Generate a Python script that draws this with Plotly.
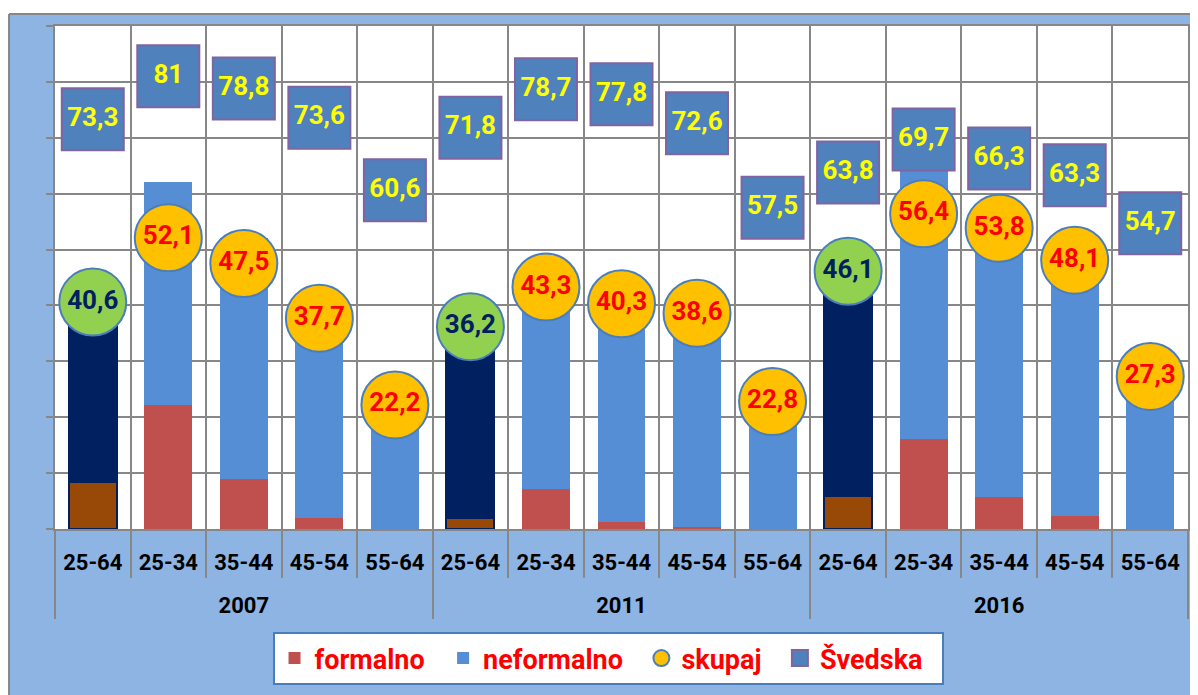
import plotly.graph_objects as go

years = ["2007", "2011", "2016"]
ages = ["25-64", "25-34", "35-44", "45-54", "55-64"]

# values in category order (year, age)
formalno = [8.4, 22.1, 8.9, 2.0, 0.0,
            2.0, 7.1, 1.2, 0.3, 0.0,
            5.9, 16.1, 5.7, 2.3, 0.0]
neformalno = [32.2, 40.0, 43.2, 36.0, 22.0,
              34.0, 36.4, 38.8, 38.3, 22.8,
              40.1, 49.9, 47.3, 45.7, 27.0]
skupaj = [40.6, 52.1, 47.5, 37.7, 22.2,
          36.2, 43.3, 40.3, 38.6, 22.8,
          46.1, 56.4, 53.8, 48.1, 27.3]
svedska = [73.3, 81, 78.8, 73.6, 60.6,
           71.8, 78.7, 77.8, 72.6, 57.5,
           63.8, 69.7, 66.3, 63.3, 54.7]

FONT = "Roboto, Liberation Sans, sans-serif"
GRID = "#878787"
PAD = "\u00a0\u00a0"  # extra spacing after each legend entry

# year labels get a leading line break so they sit lower, as in the reference
x_year = ["<br>" + y for y in years for a in ages]
x_age = [a for y in years for a in ages]
n = len(x_age)
is_total = [a == "25-64" for a in x_age]
main = [not t for t in is_total]


def fmt(v):
    return f"{v:g}".replace(".", ",")


def sub(vals, mask):
    return [v for v, m in zip(vals, mask) if m]


fig = go.Figure()

# Švedska squares (full category list first to keep category order)
fig.add_trace(go.Scatter(
    x=[x_year, x_age], y=svedska, mode="markers+text", name="Švedska" + PAD,
    text=[fmt(v) for v in svedska], textposition="middle center",
    textfont=dict(family=FONT, size=26, color="#FFFF00", weight="bold"),
    marker=dict(symbol="square", size=62, color="#4F81BD",
                line=dict(color="#8064A2", width=2)),
    legendrank=4, cliponaxis=False, hoverinfo="skip",
))

# bars
fig.add_trace(go.Bar(
    x=[sub(x_year, main), sub(x_age, main)], y=sub(formalno, main),
    name="formalno" + PAD, marker=dict(color="#C0504D", line=dict(width=0)),
    legendrank=1,
))
fig.add_trace(go.Bar(
    x=[sub(x_year, is_total), sub(x_age, is_total)], y=sub(formalno, is_total),
    name="formalno 25-64", showlegend=False,
    marker=dict(color="#984807", line=dict(color="#002060", width=2)),
))
fig.add_trace(go.Bar(
    x=[sub(x_year, main), sub(x_age, main)], y=sub(neformalno, main),
    name="neformalno" + PAD, marker=dict(color="#558ED5", line=dict(width=0)),
    legendrank=2,
))
fig.add_trace(go.Bar(
    x=[sub(x_year, is_total), sub(x_age, is_total)], y=sub(neformalno, is_total),
    name="neformalno 25-64", showlegend=False,
    marker=dict(color="#002060", line=dict(color="#002060", width=2)),
))

# skupaj circles
fig.add_trace(go.Scatter(
    x=[sub(x_year, main), sub(x_age, main)], y=sub(skupaj, main),
    mode="markers+text", name="skupaj" + PAD,
    text=[fmt(v) for v in sub(skupaj, main)], textposition="middle center",
    textfont=dict(family=FONT, size=26, color="#FF0000", weight="bold"),
    marker=dict(symbol="circle", size=67, color="#FFC000",
                line=dict(color="#4A7EBB", width=2)),
    legendrank=3, cliponaxis=False,
))
fig.add_trace(go.Scatter(
    x=[sub(x_year, is_total), sub(x_age, is_total)], y=sub(skupaj, is_total),
    mode="markers+text", name="skupaj 25-64", showlegend=False,
    text=[fmt(v) for v in sub(skupaj, is_total)], textposition="middle center",
    textfont=dict(family=FONT, size=26, color="#002060", weight="bold"),
    marker=dict(symbol="circle", size=67, color="#92D050",
                line=dict(color="#4A7EBB", width=2)),
    cliponaxis=False,
))

# empty trace so the overlay axis (category boundary ticks) is drawn
fig.add_trace(go.Scatter(x=[], y=[], xaxis="x2", yaxis="y",
                         showlegend=False, hoverinfo="skip"))

# page body has an 8px margin: the figure starts at (8, 8) of the window
OFF = 8
W, H = 1190, 687
ml, mr, mt, mb = 47, 8, 18, 166
pw, ph = W - ml - mr, H - mt - mb
left_s, bottom_s = ml + OFF, H - mb + OFF  # plot corner in window pixels


def px(x):
    return (x - left_s) / pw


def py(y):
    return (bottom_s - y) / ph


boundaries = [i - 0.5 for i in range(n + 1)]

fig.update_layout(
    width=W, height=H,
    margin=dict(l=ml, r=mr, t=mt, b=mb, pad=0),
    paper_bgcolor="#8EB4E3", plot_bgcolor="white",
    barmode="stack", bargap=0.365,
    font=dict(family=FONT),
    showlegend=True,
    legend=dict(
        orientation="h", x=px(609), y=py(632), xanchor="center", yanchor="top",
        bgcolor="white", bordercolor="#4A7EBB", borderwidth=2,
        font=dict(family=FONT, size=27, color="#FF0000", weight="bold"),
        traceorder="normal", itemsizing="trace", itemwidth=30,
    ),
    xaxis=dict(
        type="multicategory", range=[-0.5, n - 0.5], autorange=False,
        showgrid=True, gridcolor=GRID, gridwidth=2, ticks="", tickangle=0,
        ticklabelstandoff=13,
        showline=True, linecolor=GRID, linewidth=2, mirror=True,
        showdividers=True, dividercolor=GRID, dividerwidth=2,
        tickfont=dict(family=FONT, size=22, color="black", weight="bold"),
    ),
    xaxis2=dict(
        overlaying="x", anchor="y", side="bottom", range=[-0.5, n - 0.5],
        autorange=False,
        tickmode="array", tickvals=boundaries, ticks="outside", ticklen=48,
        tickwidth=2, tickcolor=GRID, showticklabels=False,
        showgrid=False, zeroline=False, showline=False,
    ),
    yaxis=dict(
        range=[0, 90], dtick=10, showticklabels=False, ticks="outside",
        ticklen=7, tickwidth=2, tickcolor=GRID, showgrid=True,
        gridcolor=GRID, gridwidth=2, zeroline=False,
        showline=True, linecolor=GRID, linewidth=2, mirror=True,
    ),
    shapes=[
        dict(type="rect", xref="paper", yref="paper", x0=px(-5), x1=px(1300),
             y0=py(14), y1=py(-5), fillcolor="white", line=dict(width=0)),
        dict(type="line", xref="paper", yref="paper", x0=px(9), x1=px(1300),
             y0=py(14), y1=py(14), line=dict(color=GRID, width=2)),
        dict(type="line", xref="paper", yref="paper", x0=px(9), x1=px(9),
             y0=py(14), y1=py(800), line=dict(color=GRID, width=2)),
    ],
)

fig.write_html("out.html")
